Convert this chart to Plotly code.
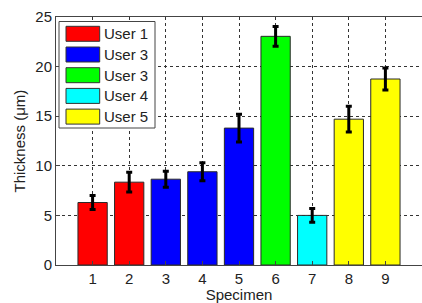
import plotly.graph_objects as go

specimens = [1, 2, 3, 4, 5, 6, 7, 8, 9]
thickness = [6.3, 8.35, 8.65, 9.4, 13.8, 23.05, 5.0, 14.7, 18.75]
errors = [0.7, 1.0, 0.8, 0.9, 1.4, 1.0, 0.7, 1.3, 1.1]
users = ["User 1", "User 1", "User 3", "User 3", "User 3", "User 3b", "User 4", "User 5", "User 5"]
legend_labels = ["User 1", "User 3", "User 3", "User 4", "User 5"]
legend_colors = ["#FF0000", "#0000FF", "#00FF00", "#00FFFF", "#FFFF00"]
group_keys = ["User 1", "User 3", "User 3b", "User 4", "User 5"]
color_map = dict(zip(group_keys, legend_colors))
bar_colors = [color_map[u] for u in users]
y_ticks = [0, 5, 10, 15, 20, 25]
x_title = "Specimen"
y_title = "Thickness (μm)"

W, H = 422, 303
L, R, T, B = 56, 0, 17, 38
pw, ph = W - L - R, H - T - B

fig = go.Figure()
fig.add_trace(go.Bar(
    x=specimens, y=thickness, width=0.8,
    marker=dict(color=bar_colors, line=dict(color="#2a2a2a", width=1)),
    error_y=dict(type="data", array=errors, color="black", thickness=3, width=3),
    showlegend=False,
))

font = dict(family="Liberation Sans, Arial, sans-serif", size=15, color="#222")

def px_x(x):
    return (x - L) / pw

def px_y(y):
    return (H - B - y) / ph

shapes = []
annotations = []
# legend box
shapes.append(dict(type="rect", xref="paper", yref="paper",
                   x0=px_x(59), x1=px_x(155), y0=px_y(128), y1=px_y(21.5),
                   line=dict(color="#444", width=1), fillcolor="white", layer="above"))
for i, (lab, col) in enumerate(zip(legend_labels, legend_colors)):
    top = 26.3 + i * 20.7
    shapes.append(dict(type="rect", xref="paper", yref="paper",
                       x0=px_x(66), x1=px_x(99.7), y0=px_y(top + 15), y1=px_y(top),
                       line=dict(color="#333", width=1), fillcolor=col, layer="above"))
    annotations.append(dict(text=lab, xref="paper", yref="paper",
                            x=px_x(101.5), y=px_y(top + 7.5), xanchor="left", yanchor="middle",
                            showarrow=False, font=font))
# y axis title
annotations.append(dict(text=y_title, xref="paper", yref="paper",
                        x=px_x(18.5), y=0.5, xanchor="center", yanchor="middle",
                        textangle=-90, showarrow=False, font=font))

fig.update_layout(
    width=W, height=H,
    margin=dict(l=L, r=R, t=T, b=B),
    paper_bgcolor="white", plot_bgcolor="white",
    font=font,
    shapes=shapes, annotations=annotations,
    xaxis=dict(range=[0, 10], tickvals=specimens, ticks="inside", ticklen=4,
               tickcolor="#444", showline=True, linecolor="#444", linewidth=1, mirror=True,
               showgrid=True, gridcolor="#333", griddash="3px,3px", gridwidth=1,
               automargin=False,
               title=dict(text=x_title, font=font, standoff=0), zeroline=False),
    yaxis=dict(range=[0, 25], tickvals=y_ticks, ticks="inside", ticklen=4,
               tickcolor="#444", showline=True, linecolor="#444", linewidth=1, mirror=False,
               showgrid=True, gridcolor="#333", griddash="3px,3px", gridwidth=1,
               automargin=False, zeroline=False),
)

fig.write_html("out.html", config={"displayModeBar": False},
               post_script="document.documentElement.style.overflow='hidden';"
                           "document.body.style.margin='0';document.body.style.overflow='hidden';")
